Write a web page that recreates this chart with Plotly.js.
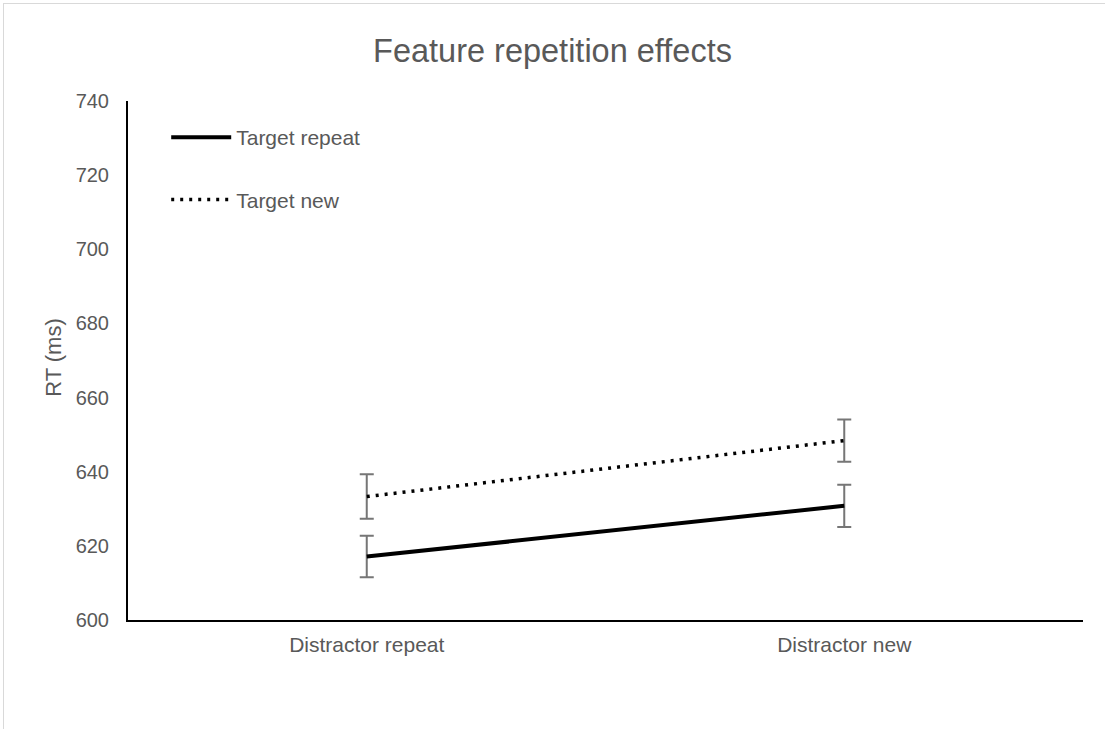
<!DOCTYPE html>
<html>
<head>
<meta charset="utf-8">
<script src="https://cdn.plot.ly/plotly-3.0.1.min.js"></script>
<style>
html,body{margin:0;padding:0;overflow:hidden;background:#fff;}
#wrap{position:relative;width:1105px;height:729px;overflow:hidden;}
#chart{position:absolute;left:0;top:0;width:1105px;height:729px;}
#frame{position:absolute;left:3px;top:3px;width:1200px;height:800px;border:1px solid #d9d9d9;pointer-events:none;}
</style>
</head>
<body>
<div id="wrap"><div id="chart"></div><div id="frame"></div></div>
<script>
const categories = ["Distractor repeat", "Distractor new"];
const targetRepeat = [617.1, 630.8];
const targetRepeatErr = [5.6, 5.7];
const targetNew = [633.3, 648.4];
const targetNewErr = [6.0, 5.7];
const yTicks = [600, 620, 640, 660, 680, 700, 720, 740];
const yTitle = "RT (ms)";

const errStyle = {type: "data", visible: true, color: "#767676", thickness: 2, width: 7};

const traces = [
  {
    x: categories, y: targetRepeat, name: "Target repeat", type: "scatter", mode: "lines",
    legendgroup: "a",
    line: {color: "#000000", width: 4},
    error_y: Object.assign({array: targetRepeatErr}, errStyle)
  },
  {
    x: categories, y: targetNew, name: "Target new", type: "scatter", mode: "lines",
    legendgroup: "b",
    line: {color: "#000000", width: 3.5, dash: "3px,6px"},
    error_y: Object.assign({array: targetNewErr}, errStyle)
  }
];

const layout = {
  width: 1105, height: 729,
  margin: {l: 128, r: 22, t: 101, b: 109},
  paper_bgcolor: "rgba(0,0,0,0)",
  plot_bgcolor: "rgba(0,0,0,0)",
  font: {family: "Liberation Sans, Arial, sans-serif", color: "#595959", size: 21},
  title: {text: "Feature repetition effects", font: {size: 32.5, color: "#595959"}, x: 0.5, xanchor: "center", y: 0.931, yanchor: "middle"},
  xaxis: {
    type: "category", range: [-0.5, 1.5], showgrid: false, zeroline: false,
    showline: true, linecolor: "#000000", linewidth: 2, ticks: "",
    ticklabelstandoff: 5,
    tickfont: {size: 21, color: "#595959"}
  },
  yaxis: {
    range: [600, 740], tickvals: yTicks, ticktext: yTicks.map(String),
    showgrid: false, zeroline: false, showline: true, linecolor: "#000000", linewidth: 2,
    ticks: "", ticklabelstandoff: 13,
    tickfont: {size: 20, color: "#595959"}
  },
  annotations: [{
    text: yTitle, xref: "paper", yref: "paper", x: -0.0775, y: 0.507,
    xanchor: "center", yanchor: "middle", textangle: -90, showarrow: false,
    font: {size: 22, color: "#595959"}
  }],
  showlegend: true,
  legend: {
    x: 0.04, y: 0.969, xanchor: "left", yanchor: "top",
    bgcolor: "rgba(0,0,0,0)", font: {size: 21, color: "#595959"},
    tracegroupgap: 32, traceorder: "grouped", itemwidth: 60
  }
};

Plotly.newPlot("chart", traces, layout, {displayModeBar: false, staticPlot: true});
</script>
</body>
</html>
